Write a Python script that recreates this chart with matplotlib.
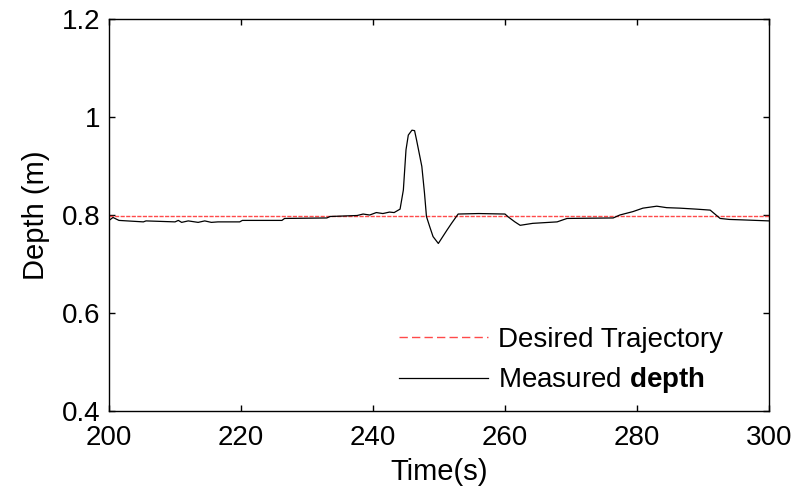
import matplotlib
matplotlib.use("Agg")
import matplotlib.pyplot as plt
from matplotlib.lines import Line2D

plt.rcParams["font.family"] = ["Liberation Sans", "DejaVu Sans"]
plt.rcParams["mathtext.fontset"] = "custom"
plt.rcParams["mathtext.rm"] = "Liberation Sans"
plt.rcParams["mathtext.bf"] = "Liberation Sans:bold"

# ── Data ───────────────────────────────────────────────────────
desired_t = [200, 300]
desired_depth = [0.799, 0.799]

time_s = [200.0, 200.6, 201.5, 205.2, 205.6, 210.0, 210.5, 211.0, 212.0,
          213.5, 214.5, 215.5, 216.5, 219.8, 220.2, 226.2, 226.6, 233.0,
          233.5, 237.6, 238.5, 239.5, 240.5, 241.5, 242.5, 243.2, 244.1,
          244.6, 245.0, 245.35, 245.9, 246.3, 246.6, 247.4, 247.8, 248.1,
          248.6, 249.1, 249.9, 251.2, 251.9, 252.9, 256.0, 260.0, 260.5,
          261.5, 262.3, 264.2, 267.9, 269.4, 276.4, 277.4, 279.4, 280.9,
          283.0, 284.5, 286.5, 289.0, 291.1, 292.6, 294.0, 296.1, 300.0]
depth = [0.789, 0.795, 0.789, 0.786, 0.788, 0.786, 0.789, 0.785, 0.788,
         0.785, 0.788, 0.785, 0.786, 0.786, 0.789, 0.789, 0.793, 0.794,
         0.797, 0.799, 0.802, 0.800, 0.805, 0.803, 0.806, 0.805, 0.812,
         0.851, 0.933, 0.963, 0.973, 0.972, 0.953, 0.899, 0.845, 0.797,
         0.776, 0.756, 0.742, 0.769, 0.783, 0.802, 0.803, 0.802, 0.796,
         0.786, 0.779, 0.783, 0.786, 0.793, 0.794, 0.800, 0.807, 0.814,
         0.818, 0.815, 0.814, 0.812, 0.810, 0.793, 0.791, 0.790, 0.788]

fig = plt.figure(figsize=(7.96, 4.96), dpi=100)
ax = fig.add_axes([0.137, 0.171, 0.829, 0.791])

ax.plot(desired_t, desired_depth, color="#ff4a4a", linewidth=1.0,
        dashes=(3, 1))
ax.plot(time_s, depth, color="black", linewidth=0.9)

ax.set_xlim(200, 300)
ax.set_ylim(0.4, 1.2)
ax.set_xticks([200, 220, 240, 260, 280, 300])
ax.set_yticks([0.4, 0.6, 0.8, 1.0, 1.2])
ax.set_yticklabels(["0.4", "0.6", "0.8", "1", "1.2"])
ax.tick_params(direction="in", top=True, right=True, labelsize=20,
               length=4, width=1)
ax.tick_params(axis="x", pad=10)
ax.tick_params(axis="y", pad=6)
for sp in ax.spines.values():
    sp.set_linewidth(1.0)

ax.set_xlabel("Time(s)", fontsize=21, labelpad=5)
ax.set_ylabel("Depth (m)", fontsize=21, labelpad=9)

handles = [Line2D([], [], color="#ff4a4a", linewidth=1.0, dashes=(6, 3)),
           Line2D([], [], color="black", linewidth=0.9)]
ax.legend(handles, ["Desired Trajectory", r"Measured $\mathbf{depth}$"],
          loc="upper left", frameon=False, fontsize=20,
          handlelength=3.2, handletextpad=0.35, labelspacing=0.45,
          borderpad=0, borderaxespad=0, bbox_to_anchor=(0.44, 0.215))

fig.savefig("out.png", dpi=100)
plt.close(fig)
